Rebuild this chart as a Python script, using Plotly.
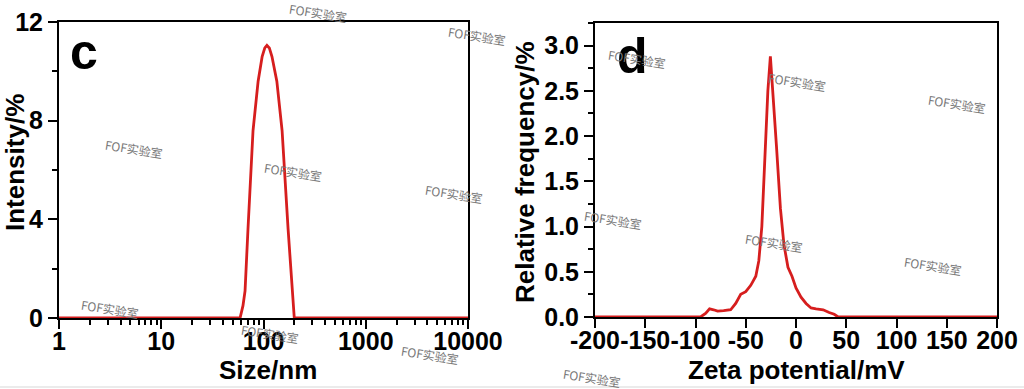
import plotly.graph_objects as go

# ---- data: panel c (size distribution) ----
size_nm = [1, 59, 63, 66, 70.5, 79, 88.6, 97, 103, 108, 114, 121, 135, 152, 174, 190, 200, 10000]
intensity = [0, 0, 0.5, 1.1, 3.6, 7.6, 9.6, 10.6, 10.95, 11.05, 10.95, 10.6, 9.6, 7.6, 3.6, 1.1, 0, 0]

# ---- data: panel d (zeta potential) ----
zeta_mv = [-200, -95, -90, -86, -82, -78, -72, -65, -60, -55, -50, -45, -40, -37, -34, -31,
           -28, -25.5, -23, -19.5, -15.5, -12, -8, -4, 0, 5, 10, 15, 20, 27, 33, 38, 42, 200]
rel_freq = [0, 0, 0.04, 0.09, 0.08, 0.065, 0.07, 0.08, 0.15, 0.25, 0.28, 0.35, 0.45, 0.62, 1.0, 1.8,
            2.5, 2.88, 2.5, 1.9, 1.2, 0.8, 0.55, 0.45, 0.32, 0.22, 0.15, 0.1, 0.09, 0.08, 0.05, 0.03, 0, 0]

size_ticks = [1, 10, 100, 1000, 10000]
size_ticktext = ["1", "10", "100", "1000", "10000"]
int_ticks = [0, 4, 8, 12]
zeta_ticks = [-200, -150, -100, -50, 0, 50, 100, 150, 200]
zeta_ticktext = ["-200", "-150", "-100", "-50", "0", "50", "100", "150", "200"]
freq_ticks = [0.0, 0.5, 1.0, 1.5, 2.0, 2.5, 3.0]

watermarks = [(318, 13), (477, 35), (134, 148), (293, 172), (454, 193), (110, 308),
              (270, 333), (430, 354), (637, 58), (797, 82), (957, 103), (613, 219),
              (774, 242), (933, 265), (592, 377)]

W, H = 1024, 389
RED = "rgb(214,30,30)"
FONT = "Liberation Sans, Arial, sans-serif"

fig = go.Figure()
fig.add_trace(go.Scatter(x=size_nm, y=intensity, mode="lines",
                         line=dict(color=RED, width=2.8),
                         xaxis="x", yaxis="y", showlegend=False))
fig.add_trace(go.Scatter(x=zeta_mv, y=rel_freq, mode="lines",
                         line=dict(color=RED, width=2.8), xaxis="x2", yaxis="y2",
                         showlegend=False))

def px(x):
    return x / W

def py(y):
    return 1 - y / H

tickfont = dict(family=FONT, size=25, color="black", weight="bold")
common = dict(showline=True, linecolor="black", linewidth=2, mirror=True,
              ticks="outside", ticklen=9, tickwidth=2, tickcolor="black",
              showgrid=False, zeroline=False, tickfont=tickfont, layer="below traces",
              automargin=False, tickangle=0)
minor_common = dict(ticks="outside", ticklen=5, tickwidth=1.5, tickcolor="black", showgrid=False)

fig.update_layout(
    width=W, height=H,
    margin=dict(l=0, r=0, t=0, b=0),
    paper_bgcolor="white", plot_bgcolor="white",
    xaxis=dict(type="log", domain=[px(59), px(468)], range=[0, 4],
               tickvals=size_ticks, ticktext=size_ticktext, anchor="y",
               ticklabelstandoff=-9,
               minor=dict(dtick="D1", **minor_common),
               **common),
    yaxis=dict(domain=[py(318), py(22)], range=[0, 12], tickvals=int_ticks, anchor="x",
               minor=dict(dtick=2, **minor_common),
               **common),
    xaxis2=dict(domain=[px(595), px(997)], range=[-200, 200], tickvals=zeta_ticks,
                ticktext=zeta_ticktext, ticklabelstandoff=-9,
                anchor="y2", **common),
    yaxis2=dict(domain=[py(317), py(23)], range=[0, 3.25], tickvals=freq_ticks,
                tickformat=".1f", anchor="x2",
                minor=dict(dtick=0.25, **minor_common),
                **common),
)

titlefont = dict(family=FONT, size=26, color="black", weight="bold")
ann = []
ann.append(dict(text="Intensity/%", x=px(15), y=py(163), textangle=-90, font=titlefont))
ann.append(dict(text="Size/nm", x=px(268), y=py(370), font=titlefont))
ann.append(dict(text="Relative frequency/%", x=px(525), y=py(172), textangle=-90, font=titlefont))
ann.append(dict(text="Zeta potential/mV", x=px(796), y=py(370), font=titlefont))
ann.append(dict(text="c", x=px(84), y=py(52), font=dict(family=FONT, size=50, color="black", weight="bold")))
ann.append(dict(text="d", x=px(632), y=py(56), font=dict(family=FONT, size=50, color="black", weight="bold")))
for (wx, wy) in watermarks:
    ann.append(dict(text="FOF实验室", x=px(wx), y=py(wy), textangle=9,
                    font=dict(family="Noto Sans CJK SC, sans-serif", size=12, color="rgb(120,120,120)")))
for a in ann:
    a.update(xref="paper", yref="paper", showarrow=False, xanchor="center", yanchor="middle")
fig.update_layout(annotations=ann)

fig.add_shape(type="line", xref="paper", yref="paper", x0=0, x1=1, y0=py(387), y1=py(387),
              line=dict(color="rgb(215,215,215)", width=1))

fig.write_html("out.html")
